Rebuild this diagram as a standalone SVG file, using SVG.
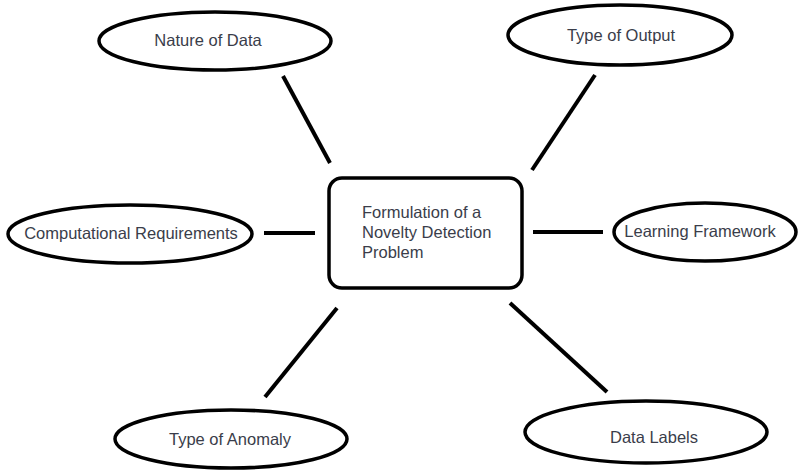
<svg xmlns="http://www.w3.org/2000/svg" width="799" height="474" viewBox="0 0 799 474">
<style>
.n{fill:#fff;stroke:#000;stroke-width:3.5}
.t{font-family:"Liberation Sans",Arial,sans-serif;font-size:16.5px;fill:#3a3d4a;text-anchor:middle}
.c{stroke:#000;stroke-width:4;stroke-linecap:butt;fill:none}
</style>
<rect width="799" height="474" fill="#fff"/>
<g id="connectors">
<line class="c" x1="283" y1="76" x2="330" y2="163"/>
<line class="c" x1="595" y1="75" x2="532" y2="170"/>
<line class="c" x1="264" y1="233" x2="315" y2="233"/>
<line class="c" x1="533" y1="232" x2="603" y2="232"/>
<line class="c" x1="337" y1="308" x2="265" y2="397"/>
<line class="c" x1="510" y1="303" x2="607" y2="392"/>
</g>
<g id="center">
<rect class="n" x="329" y="178" width="193" height="110" rx="13" ry="13"/>
<text class="t" style="text-anchor:start" x="362" y="218">Formulation of a</text>
<text class="t" style="text-anchor:start" x="362" y="238">Novelty Detection</text>
<text class="t" style="text-anchor:start" x="362" y="258">Problem</text>
</g>
<g id="nature">
<ellipse class="n" cx="215" cy="41" rx="116" ry="29"/>
<text class="t" x="208" y="46">Nature of Data</text>
</g>
<g id="output">
<ellipse class="n" cx="620" cy="35" rx="112" ry="30"/>
<text class="t" x="621" y="41">Type of Output</text>
</g>
<g id="computational">
<ellipse class="n" cx="130" cy="234" rx="122" ry="29"/>
<text class="t" x="131" y="239">Computational Requirements</text>
</g>
<g id="learning">
<ellipse class="n" cx="705" cy="232" rx="91" ry="29"/>
<text class="t" x="700" y="237">Learning Framework</text>
</g>
<g id="anomaly">
<ellipse class="n" cx="231" cy="439" rx="116" ry="29"/>
<text class="t" x="230" y="445">Type of Anomaly</text>
</g>
<g id="labels">
<ellipse class="n" cx="646" cy="432" rx="121" ry="31"/>
<text class="t" x="654" y="443">Data Labels</text>
</g>
</svg>
